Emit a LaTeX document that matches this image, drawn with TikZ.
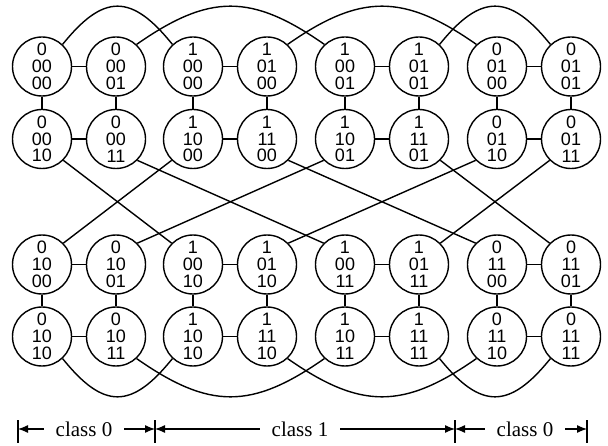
\documentclass[tikz,border=0pt]{standalone}
\usepackage{fontspec}
\setmainfont{Liberation Serif}
\newfontfamily\nodefont{Liberation Sans}
\usetikzlibrary{arrows.meta}
\begin{document}
\begin{tikzpicture}[x=1pt,y=1pt,
  st/.style={circle, draw, line width=1.4pt, minimum size=59pt, inner sep=0pt, align=center,
    font=\nodefont\fontsize{18}{16.8}\selectfont},
  ln/.style={line width=1.4pt},
  lab/.style={font=\fontsize{21}{24}\selectfont, inner xsep=12pt, inner ysep=0pt},
  arr/.style={line width=1.2pt, -{Latex[length=10pt,width=8pt]}}]
\useasboundingbox (0,0) rectangle (608,445);
% row 1
\node[st] (n11) at (42,378.5) {0\\00\\00};
\node[st] (n12) at (116,378.5) {0\\00\\01};
\node[st] (n13) at (193,378.5) {1\\00\\00};
\node[st] (n14) at (267,378.5) {1\\01\\00};
\node[st] (n15) at (345,378.5) {1\\00\\01};
\node[st] (n16) at (419,378.5) {1\\01\\01};
\node[st] (n17) at (497,378.5) {0\\01\\00};
\node[st] (n18) at (571,378.5) {0\\01\\01};
% row 2
\node[st] (n21) at (42,306) {0\\00\\10};
\node[st] (n22) at (116,306) {0\\00\\11};
\node[st] (n23) at (193,306) {1\\10\\00};
\node[st] (n24) at (267,306) {1\\11\\00};
\node[st] (n25) at (345,306) {1\\10\\01};
\node[st] (n26) at (419,306) {1\\11\\01};
\node[st] (n27) at (497,306) {0\\01\\10};
\node[st] (n28) at (571,306) {0\\01\\11};
% row 3
\node[st] (n31) at (42,180.5) {0\\10\\00};
\node[st] (n32) at (116,180.5) {0\\10\\01};
\node[st] (n33) at (193,180.5) {1\\00\\10};
\node[st] (n34) at (267,180.5) {1\\01\\10};
\node[st] (n35) at (345,180.5) {1\\00\\11};
\node[st] (n36) at (419,180.5) {1\\01\\11};
\node[st] (n37) at (497,180.5) {0\\11\\00};
\node[st] (n38) at (571,180.5) {0\\11\\01};
% row 4
\node[st] (n41) at (42,108.5) {0\\10\\10};
\node[st] (n42) at (116,108.5) {0\\10\\11};
\node[st] (n43) at (193,108.5) {1\\10\\10};
\node[st] (n44) at (267,108.5) {1\\11\\10};
\node[st] (n45) at (345,108.5) {1\\10\\11};
\node[st] (n46) at (419,108.5) {1\\11\\11};
\node[st] (n47) at (497,108.5) {0\\11\\10};
\node[st] (n48) at (571,108.5) {0\\11\\11};
% pair edges and vertical edges
\foreach \r in {1,2,3,4}{
  \draw[ln] (n\r1) -- (n\r2);
  \draw[ln] (n\r3) -- (n\r4);
  \draw[ln] (n\r5) -- (n\r6);
  \draw[ln] (n\r7) -- (n\r8);
}
\foreach \c in {1,...,8}{
  \draw[ln] (n1\c) -- (n2\c);
  \draw[ln] (n3\c) -- (n4\c);
}
% top curves
\draw[ln] (n11.47) .. controls +(41,51) and +(-41,51) .. (n13.133);
\draw[ln] (n12.47) .. controls +(73,51) and +(-73,51) .. (n15.133);
\draw[ln] (n14.47) .. controls +(73,51) and +(-73,51) .. (n17.133);
\draw[ln] (n16.47) .. controls +(41,51) and +(-41,51) .. (n18.133);
% middle lines
\draw[ln] (n21.-45) -- (n33.135);
\draw[ln] (n23.-135) -- (n31.45);
\draw[ln] (n22.-45) -- (n35.135);
\draw[ln] (n25.-135) -- (n32.45);
\draw[ln] (n24.-45) -- (n37.135);
\draw[ln] (n27.-135) -- (n34.45);
\draw[ln] (n26.-45) -- (n38.135);
\draw[ln] (n28.-135) -- (n36.45);
% bottom curves
\draw[ln] (n41.-47) .. controls +(41,-51) and +(-41,-51) .. (n43.-133);
\draw[ln] (n42.-47) .. controls +(73,-51) and +(-73,-51) .. (n45.-133);
\draw[ln] (n44.-47) .. controls +(73,-51) and +(-73,-51) .. (n47.-133);
\draw[ln] (n46.-47) .. controls +(41,-51) and +(-41,-51) .. (n48.-133);
% class labels
\coordinate (b1) at (18,16);
\coordinate (b2) at (155,16);
\coordinate (b3) at (455,16);
\coordinate (b4) at (587,16);
\foreach \b in {b1,b2,b3,b4}{\draw[line width=1.2pt] (\b) ++(0,9) -- ++(0,-23);}
\node[lab] (c0a) at (84,16) {class 0};
\node[lab] (c1) at (300,16) {class 1};
\node[lab] (c0b) at (525,16) {class 0};
\draw[arr] (c0a.west) -- (b1);
\draw[arr] (c0a.east) -- (b2);
\draw[arr] (c1.west) -- (b2);
\draw[arr] (c1.east) -- (b3);
\draw[arr] (c0b.west) -- (b3);
\draw[arr] (c0b.east) -- (b4);
\end{tikzpicture}
\end{document}
